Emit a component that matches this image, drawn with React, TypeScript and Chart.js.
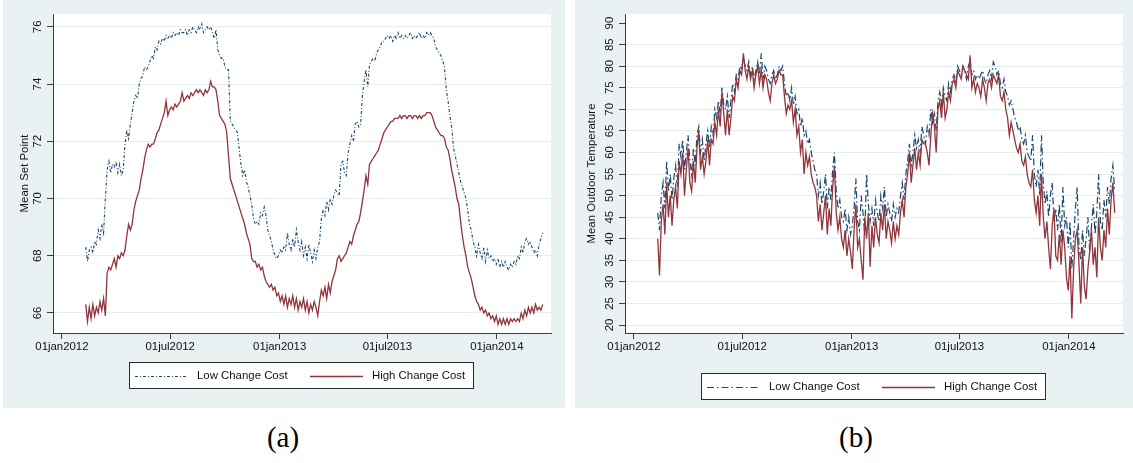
import React, { useEffect, useRef } from 'react';
import { Chart, registerables } from 'chart.js';

Chart.register(...registerables);

// ---------- data ----------
// observations every STEP_DAYS days starting START_DAY (days since 01jan2012)
const START_DAY = 40; // 10feb2012
const STEP_DAYS = 3;
const X_MIN = -15;
const X_MAX = 822;

const TICK_DAYS = [0, 182, 366, 547, 731];
const TICK_LABELS = ['01jan2012', '01jul2012', '01jan2013', '01jul2013', '01jan2014'];
const SERIES_LABELS = ['Low Change Cost', 'High Change Cost'];

const SETPOINT_TICKS = [66, 68, 70, 72, 74, 76];
const TEMP_TICKS = [20, 25, 30, 35, 40, 45, 50, 55, 60, 65, 70, 75, 80, 85, 90];

const SETPOINT_LOW = [
  68.3, 67.8, 68.2, 68.3, 68.1, 68.5, 68.4, 68.9, 68.6, 69.1,
  68.8, 70.0, 71.0, 71.3, 70.9, 71.2, 71.1, 71.3, 70.9, 71.2,
  70.8, 71.0, 71.9, 72.4, 72.1, 72.6, 73.0, 73.4, 73.6, 73.5,
  74.0, 74.2, 74.3, 74.6, 74.5, 74.6, 74.8, 75.0, 74.9, 75.3,
  75.2, 75.5, 75.4, 75.6, 75.5, 75.7, 75.6, 75.7, 75.6, 75.8,
  75.7, 75.8, 75.7, 75.9, 75.8, 75.8, 75.9, 75.7, 75.9, 75.8,
  76.0, 75.9, 75.8, 76.0, 75.9, 76.1, 75.8, 75.9, 76.0, 75.9,
  76.0, 75.8, 75.6, 75.9, 75.2, 75.0, 74.9, 74.9, 74.6, 74.5,
  74.5, 72.7, 72.6, 72.5, 72.4, 72.3, 71.7, 71.2, 70.8, 71.0,
  70.6, 70.4, 70.1, 69.8, 69.3, 69.1, 69.2, 69.1, 69.5, 69.4,
  69.7, 69.4, 68.9, 68.7, 68.5, 68.2, 68.0, 67.9, 68.0, 68.2,
  68.1, 68.3, 68.2, 68.8, 68.4, 68.2, 68.6, 68.3, 68.9, 68.5,
  68.2, 68.5, 68.0, 68.3, 67.9, 68.4, 68.1, 67.8, 68.2, 67.9,
  68.3, 68.5, 69.3, 69.6, 69.4, 69.9, 69.6, 70.0, 69.8, 70.1,
  70.3, 70.2, 70.1, 71.2, 71.3, 70.9, 70.8, 71.6, 71.9, 72.2,
  72.0, 72.6, 72.7, 72.5, 72.6, 73.6, 74.1, 74.5, 73.9, 74.7,
  74.8, 74.9, 74.8, 75.1, 75.2, 75.3, 75.5, 75.5, 75.6, 75.7,
  75.6, 75.7, 75.5, 75.7, 75.6, 75.8, 75.6, 75.7, 75.6, 75.7,
  75.6, 75.7, 75.8, 75.6, 75.7, 75.6, 75.7, 75.8, 75.6, 75.7,
  75.6, 75.8, 75.7, 75.8, 75.7, 75.6, 75.3, 75.2, 75.1, 75.0,
  74.8, 74.6, 73.8, 73.4, 72.9, 72.5, 71.8, 71.5, 71.2, 70.9,
  70.6, 70.4, 70.2, 70.0, 69.6, 69.1, 68.9, 68.5, 68.3, 68.0,
  68.4, 68.1, 67.9, 68.3, 67.8, 68.2, 67.9, 68.0, 67.8, 67.9,
  67.7, 67.9, 67.6, 67.8, 67.6, 67.8, 67.6, 67.5, 67.7, 67.6,
  67.8, 67.7, 68.0, 67.9, 68.3, 68.1, 68.5, 68.6, 68.4, 68.5,
  68.3, 68.1, 68.2, 68.0, 68.4, 68.6, 68.8,
];

const SETPOINT_HIGH = [
  66.3, 65.7, 66.2, 65.8, 66.3, 65.9, 66.2, 66.0, 66.4, 66.1,
  66.5, 65.9, 67.4, 67.6, 67.5, 67.7, 67.9, 67.6, 68.0, 67.9,
  68.1, 68.0, 68.2, 68.7, 69.1, 68.9, 69.1, 69.6, 69.9, 70.1,
  70.3, 70.7, 71.0, 71.4, 71.7, 71.9, 71.8, 71.9, 71.9, 72.1,
  72.3, 72.4, 72.6, 72.8, 73.0, 73.4, 72.9, 73.1, 73.2, 73.1,
  73.3, 73.2, 73.3, 73.4, 73.7, 73.4, 73.5, 73.6, 73.5, 73.7,
  73.6, 73.7, 73.8, 73.7, 73.8, 73.7, 73.6, 73.8, 73.7, 73.8,
  74.1, 73.9, 73.9, 73.8, 73.4, 72.9, 72.8, 72.7, 72.6, 72.3,
  71.5, 70.7, 70.5, 70.3, 70.1, 69.9, 69.7, 69.5, 69.3, 69.1,
  68.8, 68.6, 68.4, 67.9, 67.8, 67.8, 67.6, 67.7, 67.5, 67.6,
  67.3, 67.1, 67.0, 66.9, 67.0, 66.8, 66.9, 66.6, 66.7, 66.4,
  66.6, 66.3, 66.6, 66.2, 66.5, 66.3, 66.6, 66.2, 66.5, 66.1,
  66.4, 66.2, 66.5, 66.1, 66.4, 66.0, 66.3, 66.1, 66.4, 66.2,
  65.9, 66.4, 66.8, 66.6, 66.9, 66.5, 67.0, 66.7, 67.1, 67.3,
  67.5, 67.9, 68.0, 67.8, 67.9, 68.0, 68.1, 68.3, 68.5, 68.4,
  68.7, 68.9, 69.1, 69.2, 69.5, 69.9, 70.3, 70.8, 70.5, 71.2,
  71.3, 71.4, 71.5, 71.6, 71.7, 71.9, 72.1, 72.3, 72.4, 72.5,
  72.6, 72.7, 72.7, 72.8, 72.8, 72.8, 72.9, 72.8, 72.9, 72.9,
  72.8, 72.9, 72.9, 72.8, 72.9, 72.9, 72.8, 72.9, 72.8, 72.9,
  72.9, 73.0, 73.0, 73.0, 72.9, 72.7, 72.5, 72.4, 72.3, 72.2,
  72.2, 72.1, 71.8, 71.7, 71.4, 71.0, 70.7, 70.4, 70.0, 69.8,
  69.2, 68.7, 68.3, 68.0, 67.6, 67.4, 67.2, 66.9, 66.6, 66.4,
  66.3, 66.1, 66.2, 66.0, 66.1, 65.9, 66.0, 65.8, 65.9, 65.7,
  65.9, 65.6, 65.8, 65.6, 65.8, 65.6, 65.8, 65.6, 65.8, 65.7,
  65.8, 65.7, 65.8, 65.7, 66.0, 65.8, 66.1, 65.9, 66.2, 66.0,
  66.2, 66.0, 66.3, 66.1, 66.2, 66.1, 66.3,
];

const TEMP_LOW = [
  46, 42, 50, 53, 47, 58, 51, 55, 49, 54,
  57, 52, 62, 59, 63, 56, 60, 64, 58, 55,
  61, 57, 64, 66, 60, 63, 58, 62, 65, 61,
  66, 64, 70, 68, 72, 69, 75, 71, 70, 73,
  68, 72, 76, 74, 78, 77, 80, 79, 82, 80,
  79, 81, 78, 80, 77, 79, 81, 78, 83, 77,
  80, 79, 77, 76, 78, 79, 77, 78, 80, 79,
  80, 76, 73, 74, 72, 75, 71, 73, 69, 70,
  66, 68, 64, 65, 62, 63, 60, 58, 56, 55,
  50, 53, 48, 51, 55, 47, 52, 49, 56, 60,
  51, 47, 49, 45, 44, 47, 42, 45, 41, 43,
  47, 54, 44, 42, 50, 46, 41, 55, 48, 44,
  47, 43, 49, 46, 44, 50, 47, 52, 45, 48,
  46, 44, 48, 45, 47, 46, 50, 53, 49, 55,
  58, 62, 57, 60, 64, 61, 63, 60, 66, 64,
  62, 66, 64, 70, 67, 69, 65, 72, 74, 71,
  75, 73, 72, 76, 74, 77, 78, 76, 80, 79,
  78, 80, 79, 77, 80, 81, 78, 79, 77, 78,
  77, 78, 79, 77, 76, 78, 79, 77, 81, 80,
  78, 79, 76, 75, 77, 74, 73, 71, 72, 70,
  68, 67, 65, 66, 63, 62, 64, 60, 59, 58,
  64, 55, 52, 56, 50, 64, 53, 48, 51, 45,
  50, 53, 44, 47, 42, 48, 39, 52, 43, 45,
  38, 44, 33, 40, 47, 52, 38, 35, 42, 36,
  40, 45, 37, 43, 48, 41, 46, 55, 44, 42,
  49, 45, 52, 48, 54, 57, 51,
];

const TEMP_HIGH = [
  40, 31.5, 44, 48, 41, 53, 45, 50, 43, 49,
  52, 47, 58, 55, 60, 50, 56, 61, 53, 51,
  58, 53, 61, 65, 56, 59, 55, 58, 63, 57,
  63, 62, 67, 64, 70, 66, 74, 69, 64, 70,
  64, 68, 73, 72, 77, 75, 79, 78, 83, 79,
  77, 80, 77, 79, 75, 78, 80, 76, 79, 75,
  78, 77, 74, 72, 76, 78, 76, 77, 79, 78,
  78, 73, 69, 71, 70, 72, 67, 70, 64, 66,
  60, 63, 55, 60, 57, 59, 55, 53, 52, 50,
  44, 48, 42, 46, 50, 41, 47, 43, 52, 57,
  46, 42, 45, 40, 38, 42, 36, 40, 37, 33,
  42, 48, 38, 40, 35, 30.5, 45, 40, 46, 33.5,
  43, 38, 45, 41, 39, 46, 42, 48, 40, 44,
  42, 39, 44, 40, 43, 41, 46, 49, 45, 52,
  55, 60, 53, 57, 61, 56, 60, 57, 63, 62,
  62, 60, 57, 64, 69, 66, 60, 70, 72, 68,
  74, 68, 70, 74, 72, 76, 77, 75, 79, 78,
  77, 80, 79, 78, 77, 82.5, 75, 77, 74, 76,
  75, 73, 77, 75, 72, 76, 77, 75, 78, 77,
  76, 78, 73, 72, 74, 70, 68, 64, 67, 65,
  63, 61, 60, 62, 58, 57, 59, 55, 53, 52,
  56, 49, 46, 50, 43, 55, 45, 40, 44, 38,
  33, 43, 47, 36, 35, 41, 34, 42, 38, 31,
  28, 36, 21.5, 33, 40, 42, 34, 25, 38, 29,
  26, 33, 37, 42, 34, 38, 31, 45, 38, 35,
  42, 38, 47, 41, 49, 53, 46,
];

// ---------- styles ----------
const NAVY = '#1a476f';
const MAROON = '#90353b';
const BG = '#eaf1f3';
const GRID = '#e4eef0';
const AXIS = '#3c3c3c';
const TEXT = '#111111';
const FONT_FAMILY = '"Liberation Sans", Arial, Helvetica, sans-serif';
const FONT_SIZE = 11.4;

const panelPlugin = {
  id: 'panelDecor',
  beforeDraw(chart: any, _args: any, opts: any) {
    const { ctx, chartArea: a, width, height } = chart;
    ctx.save();
    ctx.fillStyle = opts.bg;
    ctx.fillRect(0, 0, width, height);
    ctx.fillStyle = '#ffffff';
    ctx.fillRect(a.left, a.top, a.right - a.left, a.bottom - a.top);
    ctx.restore();
  },
  afterDraw(chart: any, _args: any, opts: any) {
    const { ctx } = chart;
    const b = opts.box;
    ctx.save();
    ctx.fillStyle = '#ffffff';
    ctx.fillRect(b.x, b.y, b.w, b.h);
    ctx.strokeStyle = '#2a2a2a';
    ctx.lineWidth = 1;
    ctx.setLineDash([]);
    ctx.strokeRect(b.x + 0.5, b.y + 0.5, b.w - 1, b.h - 1);
    const cy = b.y + b.h / 2;
    chart.data.datasets.forEach((ds: any, i: number) => {
      const e = opts.entries[i];
      ctx.beginPath();
      ctx.setLineDash(ds.borderDash || []);
      ctx.strokeStyle = ds.borderColor;
      ctx.lineWidth = ds.borderWidth;
      ctx.moveTo(e.lineX, Math.round(cy) + 0.5);
      ctx.lineTo(e.lineX + e.lineW, Math.round(cy) + 0.5);
      ctx.stroke();
      ctx.setLineDash([]);
      ctx.fillStyle = TEXT;
      ctx.font = `${FONT_SIZE}px ${FONT_FAMILY}`;
      ctx.textBaseline = 'middle';
      ctx.textAlign = 'left';
      ctx.fillText(ds.label, e.textX, cy + 0.5);
    });
    ctx.restore();
  },
};

type PanelProps = {
  left: number;
  top: number;
  width: number;
  height: number;
  rightPad: number;
  yTitle: string;
  titlePad: number;
  yMin: number;
  yMax: number;
  yTicks: number[];
  hideGridAt: number[];
  low: number[];
  high: number[];
  lowDash: number[];
  lowWidth: number;
  legendTop: number;
};

function Panel(p: PanelProps) {
  const ref = useRef<HTMLCanvasElement>(null);
  useEffect(() => {
    const font = { family: FONT_FAMILY, size: FONT_SIZE };
    const toPoints = (arr: number[]) => arr.map((v, i) => ({ x: START_DAY + STEP_DAYS * i, y: v }));
    const chart = new Chart(ref.current as HTMLCanvasElement, {
      type: 'line',
      data: {
        datasets: [
          {
            label: SERIES_LABELS[0],
            data: toPoints(p.low),
            borderColor: NAVY,
            borderWidth: p.lowWidth,
            borderDash: p.lowDash,
            pointRadius: 0,
            tension: 0,
            fill: false,
            order: 1,
          },
          {
            label: SERIES_LABELS[1],
            data: toPoints(p.high),
            borderColor: MAROON,
            borderWidth: 1.3,
            pointRadius: 0,
            tension: 0,
            fill: false,
            order: 0,
          },
        ],
      } as any,
      options: {
        animation: false,
        responsive: false,
        devicePixelRatio: 1,
        events: [],
        layout: { padding: { top: 14, right: p.rightPad, left: 0, bottom: 0 } },
        plugins: {
          legend: { display: false },
          tooltip: { enabled: false },
          panelDecor: {
            bg: BG,
            box: { x: 126, y: p.legendTop, w: 345, h: 27 },
            entries: [
              { lineX: 132, lineW: 53, textX: 194 },
              { lineX: 307, lineW: 53, textX: 369 },
            ],
          },
        } as any,
        scales: {
          x: {
            type: 'linear',
            min: X_MIN,
            max: X_MAX,
            afterBuildTicks: (s: any) => {
              s.ticks = TICK_DAYS.map((v) => ({ value: v }));
            },
            afterFit: (s: any) => {
              s.height = p.height - 333;
            },
            ticks: {
              autoSkip: false,
              minRotation: 0,
              maxRotation: 0,
              padding: 1,
              color: TEXT,
              font,
              callback: (v: any) => {
                const k = TICK_DAYS.indexOf(Number(v));
                return k >= 0 ? TICK_LABELS[k] : '';
              },
            },
            grid: {
              drawOnChartArea: false,
              drawTicks: true,
              tickLength: 6,
              tickColor: AXIS,
              tickWidth: 1,
            },
            border: { display: true, color: AXIS, width: 1 },
          },
          y: {
            type: 'linear',
            min: p.yMin,
            max: p.yMax,
            afterBuildTicks: (s: any) => {
              s.ticks = p.yTicks.map((v) => ({ value: v }));
            },
            afterFit: (s: any) => {
              s.width = 50;
            },
            ticks: {
              autoSkip: false,
              minRotation: 90,
              maxRotation: 90,
              crossAlign: 'center',
              padding: 3,
              color: TEXT,
              font,
              callback: (v: any) => String(v),
            },
            grid: {
              color: (c: any) =>
                c.tick && p.hideGridAt.indexOf(c.tick.value) >= 0 ? 'rgba(0,0,0,0)' : GRID,
              lineWidth: 1,
              drawTicks: true,
              tickLength: 6,
              tickColor: AXIS,
              tickWidth: 1,
            },
            border: { display: true, color: AXIS, width: 1 },
            title: {
              display: true,
              text: p.yTitle,
              color: TEXT,
              font,
              padding: { top: p.titlePad, bottom: 0 },
            },
          },
        },
      } as any,
      plugins: [panelPlugin as any],
    });
    return () => chart.destroy();
  }, []);
  return (
    <canvas
      ref={ref}
      width={p.width}
      height={p.height}
      style={{ position: 'absolute', left: p.left, top: p.top, width: p.width, height: p.height }}
    />
  );
}

const captionStyle: React.CSSProperties = {
  position: 'absolute',
  top: 423,
  width: 100,
  textAlign: 'center',
  fontFamily: '"Liberation Serif", "DejaVu Serif", serif',
  fontSize: 29,
  lineHeight: '29px',
  color: '#000',
};

export default function App() {
  return (
    <div
      style={{
        position: 'fixed',
        left: 0,
        top: 0,
        width: 1133,
        height: 463,
        background: '#ffffff',
        overflow: 'hidden',
      }}
    >
      <Panel
        left={3}
        top={0}
        width={562}
        height={408}
        rightPad={14}
        yTitle="Mean Set Point"
        titlePad={15}
        yMin={65.3}
        yMax={76.45}
        yTicks={SETPOINT_TICKS}
        hideGridAt={[]}
        low={SETPOINT_LOW}
        high={SETPOINT_HIGH}
        lowDash={[3, 2, 1, 2]}
        lowWidth={1.1}
        legendTop={362}
      />
      <Panel
        left={575}
        top={0}
        width={558}
        height={408}
        rightPad={10}
        yTitle="Mean Outdoor Temperature"
        titlePad={10}
        yMin={18.15}
        yMax={92.1}
        yTicks={TEMP_TICKS}
        hideGridAt={[90]}
        low={TEMP_LOW}
        high={TEMP_HIGH}
        lowDash={[7, 3, 1.5, 3]}
        lowWidth={1.2}
        legendTop={373}
      />
      <div style={{ ...captionStyle, left: 233 }}>(a)</div>
      <div style={{ ...captionStyle, left: 806 }}>(b)</div>
    </div>
  );
}
